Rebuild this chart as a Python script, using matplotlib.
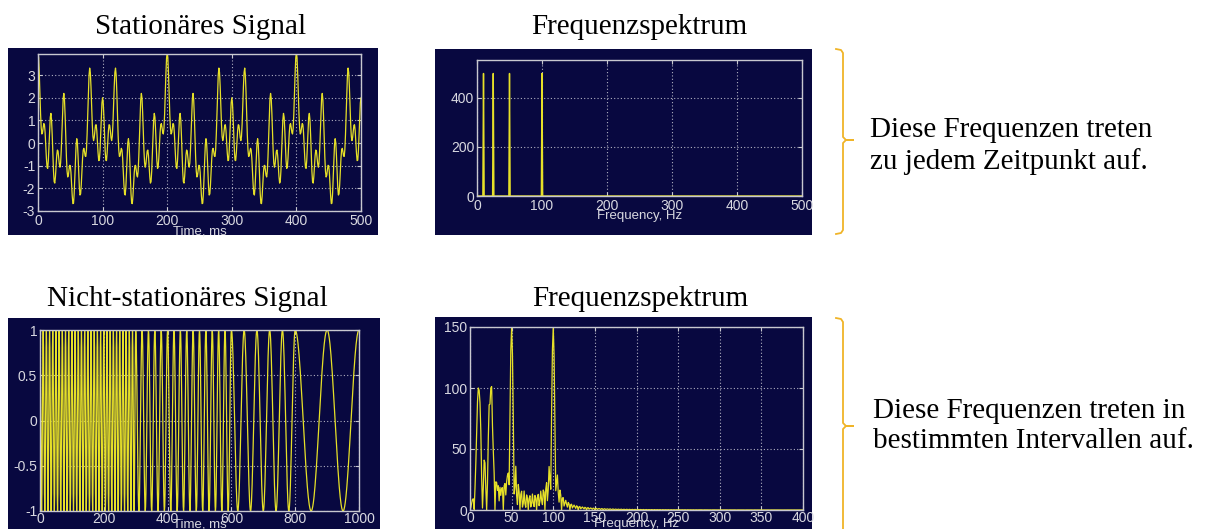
import numpy as np
import matplotlib
matplotlib.use("Agg")
import matplotlib.pyplot as plt
from matplotlib.patches import Rectangle

# ---- data ----
stat_freqs = [10, 25, 50, 100]          # Hz, present the whole time
stat_fs = 1000                          # samples / s
stat_len_ms = 1000                      # record used for the FFT
stat_show_ms = 500                      # part of it that is plotted

nonstat_freqs = [100, 50, 25, 10]       # Hz, one per interval
nonstat_edges_ms = [0, 300, 600, 800, 1000]
nonstat_fs = 1000

titles = ["Stationäres Signal", "Frequenzspektrum",
          "Nicht-stationäres Signal", "Frequenzspektrum"]
notes = ["Diese Frequenzen treten\nzu jedem Zeitpunkt auf.",
         "Diese Frequenzen treten in\nbestimmten Intervallen auf."]

# ---- signals ----
t1 = np.arange(0, stat_len_ms / 1000, 1 / stat_fs)
sig1 = sum(np.cos(2 * np.pi * f * t1) for f in stat_freqs)
spec1 = np.abs(np.fft.fft(sig1))
f1 = np.arange(len(sig1)) * stat_fs / len(sig1)

t2 = np.arange(0, nonstat_edges_ms[-1] / 1000, 1 / nonstat_fs)
sig2 = np.zeros_like(t2)
for f, a, b in zip(nonstat_freqs, nonstat_edges_ms[:-1], nonstat_edges_ms[1:]):
    m = (t2 * 1000 >= a) & (t2 * 1000 < b)
    sig2[m] = np.cos(2 * np.pi * f * t2[m])
spec2 = np.abs(np.fft.fft(sig2))
f2 = np.arange(len(sig2)) * nonstat_fs / len(sig2)

# ---- look ----
W, H = 1208, 529
NAVY = "#080840"
FRAME = "#c8c8d0"
TXT = "#d8d8e0"
YEL = "#e6e028"
GOLD = "#f0b428"
plt.rcParams["axes.unicode_minus"] = False
tick_font = "Liberation Sans"

fig = plt.figure(figsize=(W / 100, H / 100), dpi=100)
fig.patch.set_facecolor("white")

ov = fig.add_axes([0, 0, 1, 1])
ov.set_xlim(0, W)
ov.set_ylim(H, 0)
ov.axis("off")

# navy panels behind the plots
for x0, y0, x1, y1 in [(8, 48, 378, 235), (435, 49, 812, 235),
                       (8, 318, 380, 529), (435, 317, 812, 529)]:
    ov.add_patch(Rectangle((x0, y0), x1 - x0, y1 - y0, color=NAVY, lw=0))


def px_axes(x0, y0, x1, y1):
    return fig.add_axes([x0 / W, 1 - y1 / H, (x1 - x0) / W, (y1 - y0) / H])


def style(ax, xlim, ylim, xticks, yticks, ytl, xlabel, lpad=-2, tpad=2):
    ax.set_facecolor(NAVY)
    ax.set_xlim(xlim)
    ax.set_ylim(ylim)
    ax.set_xticks(xticks)
    ax.set_yticks(yticks)
    ax.set_yticklabels(ytl)
    ax.grid(True, color="#b0b0c0", linestyle=(0, (1, 2)), linewidth=0.8)
    for s in ax.spines.values():
        s.set_color(FRAME)
        s.set_linewidth(1)
    ax.tick_params(direction="in", length=3, colors=FRAME, labelcolor=TXT,
                   labelsize=10, top=True, right=True, pad=2)
    ax.tick_params(axis="x", pad=tpad)
    for lab in ax.get_xticklabels() + ax.get_yticklabels():
        lab.set_family(tick_font)
    ax.set_xlabel(xlabel, color=TXT, fontsize=9.5, labelpad=lpad, family=tick_font)


ax1 = px_axes(38, 54, 361, 211)
ax1.plot(t1 * 1000, sig1, color=YEL, lw=0.9)
style(ax1, (0, stat_show_ms), (-3, 3.93), range(0, 501, 100), range(-3, 4),
      [str(v) for v in range(-3, 4)], "Time, ms")

ax2 = px_axes(477, 60, 802, 196)
ax2.plot(f1, spec1, color=YEL, lw=1.0)
style(ax2, (0, 500), (0, 555), range(0, 501, 100), [0, 200, 400],
      ["0", "200", "400"], "Frequency, Hz")

ax3 = px_axes(40, 330, 359, 511)
ax3.plot(t2 * 1000, sig2, color=YEL, lw=0.9)
style(ax3, (0, 1000), (-1, 1), range(0, 1001, 200), [-1, -0.5, 0, 0.5, 1],
      ["-1", "-0.5", "0", "0.5", "1"], "Time, ms", lpad=-6, tpad=1)

ax4 = px_axes(470, 327, 803, 510)
ax4.plot(f2, spec2, color=YEL, lw=0.9)
style(ax4, (0, 400), (0, 150), range(0, 401, 50), [0, 50, 100, 150],
      ["0", "50", "100", "150"], "Frequency, Hz", lpad=-5.5, tpad=1)

# titles and notes
serif = "Liberation Serif"
for txt, x, y in zip(titles, [201, 639, 187, 640], [34, 34, 306, 306]):
    ov.text(x, y, txt, ha="center", va="baseline", fontsize=21, family=serif)
for txt, x, y in zip(notes, [870, 873], [146, 426]):
    ov.text(x, y, txt, ha="left", va="center", fontsize=21, family=serif,
            linespacing=1.2)


# curly brackets on the right
def brace(y0, y1, ym):
    xs = [836, 841, 843, 843, 846, 853, 846, 843, 843, 841, 836]
    ys = [y0, y0 + 1, y0 + 4, ym - 3, ym, ym, ym, ym + 3, y1 - 4, y1 - 1, y1]
    ov.plot(xs, ys, color=GOLD, lw=1.3, solid_joinstyle="round")


brace(49, 234, 140)
brace(318, 535, 426)

fig.savefig("out.png", dpi=100, facecolor="white")
